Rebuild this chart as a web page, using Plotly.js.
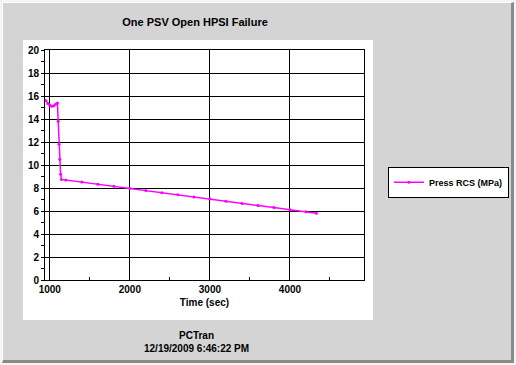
<!DOCTYPE html>
<html><head><meta charset="utf-8">
<script src="https://cdn.plot.ly/plotly-3.0.1.min.js"></script>
<style>
html,body{margin:0;padding:0;width:516px;height:365px;overflow:hidden;background:#f4f4f4;}
#frame{position:absolute;left:2px;top:2px;width:508px;height:357px;background:#d4d4d4;border-right:3px solid #8a8a8a;border-bottom:3px solid #8a8a8a;border-top:1px solid #ffffff;border-left:1px solid #ffffff;}
#panel{position:absolute;left:23px;top:40px;width:350px;height:280px;background:#ffffff;}
#plot{position:absolute;left:0;top:0;width:516px;height:365px;}
</style></head>
<body>
<div id="frame"></div>
<div id="panel"></div>
<div id="plot"></div>
<script>
const timeSec = [950, 975, 1000, 1025, 1050, 1075, 1095, 1105, 1115, 1125, 1135, 1145,
  1200, 1400, 1600, 1800, 2000, 2200, 2400, 2600, 2800, 3000, 3200, 3400, 3600, 3800, 4000, 4200, 4330];
const pressRCS = [15.6, 15.35, 15.2, 15.1, 15.15, 15.3, 15.4, 13.8, 11.8, 10.5, 9.2, 8.75,
  8.70, 8.52, 8.33, 8.15, 7.96, 7.78, 7.59, 7.41, 7.22, 7.04, 6.85, 6.66, 6.48, 6.30, 6.11, 5.93, 5.80];
const seriesName = 'Press RCS (MPa)';
const xTickVals = [1000, 2000, 3000, 4000];
const yTickVals = [0, 2, 4, 6, 8, 10, 12, 14, 16, 18, 20];

const F = 'Arial, "Liberation Sans", sans-serif';
const data = [{
  x: timeSec, y: pressRCS, name: seriesName, type: 'scatter', mode: 'lines+markers',
  line: {color: '#ff00ff', width: 1.5}, marker: {color: '#ff00ff', size: 3}
}];
const layout = {
  width: 516, height: 365,
  paper_bgcolor: 'rgba(0,0,0,0)', plot_bgcolor: '#ffffff',
  margin: {l: 45, r: 152, t: 50, b: 85, autoexpand: false},
  showlegend: true,
  title: {text: '<b>One PSV Open HPSI Failure</b>', font: {family: F, size: 11, color: '#000'},
    x: 0.378, xanchor: 'center', xref: 'container', y: 0.94, yref: 'container', yanchor: 'middle'},
  xaxis: {range: [940, 4925], tickvals: xTickVals, ticktext: xTickVals.map(String),
    showgrid: true, gridcolor: '#000', gridwidth: 1, zeroline: false,
    showline: true, linecolor: '#000', linewidth: 1, mirror: true,
    ticks: '', tickfont: {family: F, size: 10, color: '#000', weight: 'bold'},
    minor: {dtick: 500, tick0: 500, ticks: 'inside', ticklen: 3, tickcolor: '#000', showgrid: false},
    title: {text: '<b>Time (sec)</b>', font: {family: F, size: 10, color: '#000'}, standoff: 4}},
  yaxis: {range: [0, 20], tickvals: yTickVals, ticktext: yTickVals.map(String),
    showgrid: true, gridcolor: '#000', gridwidth: 1, zeroline: false,
    showline: true, linecolor: '#000', linewidth: 1, mirror: true,
    ticks: 'outside', ticklen: 3, tickcolor: '#000',
    tickfont: {family: F, size: 10, color: '#000', weight: 'bold'},
    minor: {dtick: 1, ticks: 'outside', ticklen: 3, tickcolor: '#000', showgrid: false}},
  legend: {xref: 'container', yref: 'container', x: 0.752, xanchor: 'left', y: 0.543, yanchor: 'top',
    bgcolor: '#ffffff', bordercolor: '#000', borderwidth: 1,
    font: {family: F, size: 9, color: '#000', weight: 'bold'},
    itemwidth: 30, tracegroupgap: 0},
  annotations: [{text: '<b>PCTran</b><br><b>12/19/2009 6:46:22 PM</b>', xref: 'paper', yref: 'paper',
    x: 0.475, y: -0.27, xanchor: 'center', yanchor: 'middle', showarrow: false,
    font: {family: F, size: 10, color: '#000'}}]
};
Plotly.newPlot('plot', data, layout, {displayModeBar: false, staticPlot: true});
</script>
</body></html>
